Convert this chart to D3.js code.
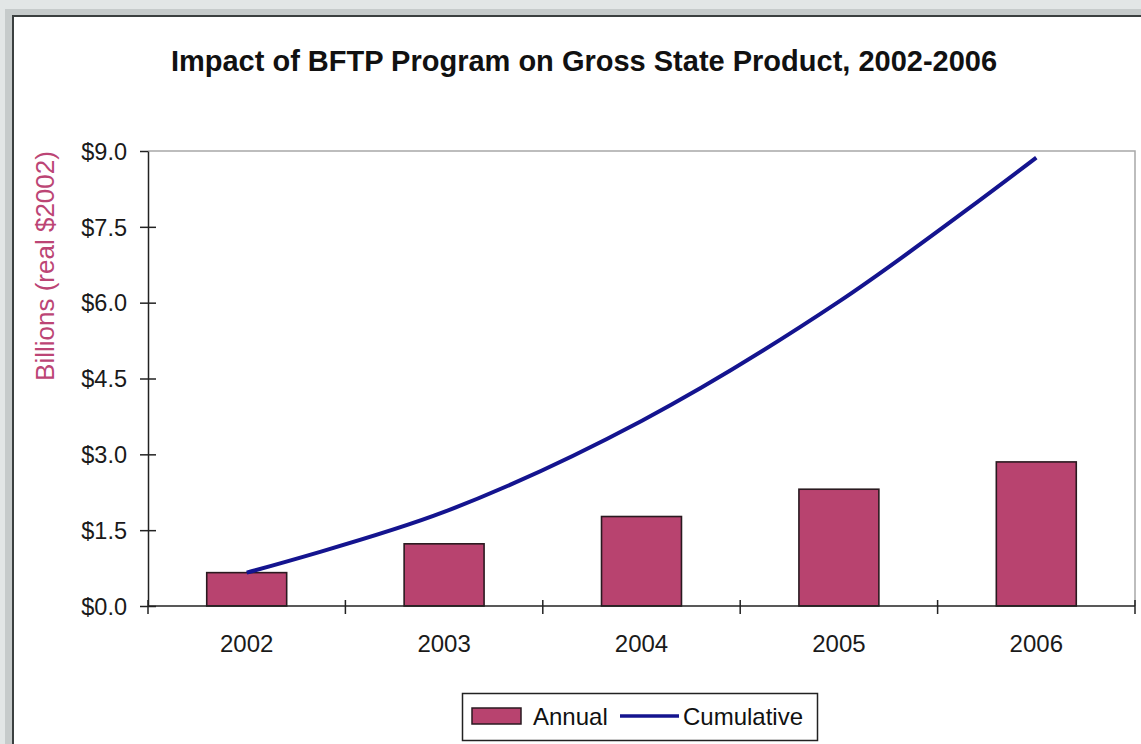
<!DOCTYPE html>
<html>
<head>
<meta charset="utf-8">
<script src="https://cdn.jsdelivr.net/npm/d3@7"></script>
<style>
  html, body { margin: 0; padding: 0; background: #dfe3e3; }
  svg { display: block; }
  text { font-family: "Liberation Sans", Arial, sans-serif; }
</style>
</head>
<body>
<svg id="chart" width="1141" height="744"></svg>
<script>
const years = ["2002", "2003", "2004", "2005", "2006"];
const annual = [0.66, 1.23, 1.77, 2.31, 2.85];
const cumulative = [0.66, 1.86, 3.66, 6.02, 8.87];
const yTicks = [0, 1.5, 3, 4.5, 6, 7.5, 9];
const seriesNames = ["Annual", "Cumulative"];
const titleText = "Impact of BFTP Program on Gross State Product, 2002-2006";
const yAxisTitle = "Billions (real $2002)";

const svg = d3.select("#chart");

// window frame
svg.append("rect").attr("x", 0).attr("y", 0).attr("width", 1141).attr("height", 744).attr("fill", "#e2e6e6");
svg.append("rect").attr("x", 5).attr("y", 9).attr("width", 1141).attr("height", 744).attr("fill", "#c6cbcb");
svg.append("rect").attr("x", 12).attr("y", 15).attr("width", 1141).attr("height", 744).attr("fill", "#3b4040");
svg.append("rect").attr("x", 14).attr("y", 17).attr("width", 1141).attr("height", 744).attr("fill", "#ffffff");

const pLeft = 148, pRight = 1135, pTop = 151, pBottom = 606;

const x = d3.scaleBand().domain(years).range([pLeft, pRight]).padding(0);
const y = d3.scaleLinear().domain([0, 9]).range([pBottom, pTop]);

// title
svg.append("text")
  .attr("x", 584).attr("y", 71)
  .attr("text-anchor", "middle")
  .attr("font-size", 29).attr("font-weight", "bold").attr("fill", "#111")
  .text(titleText);

// plot frame (top & right light gray)
svg.append("path")
  .attr("d", `M${pLeft},${pTop}H${pRight}V${pBottom}`)
  .attr("fill", "none").attr("stroke", "#a8a8a8").attr("stroke-width", 1.5);

// bars
const bw = x.bandwidth() * 0.405;
svg.append("g").selectAll("rect").data(annual).join("rect")
  .attr("x", (d, i) => x(years[i]) + x.bandwidth() / 2 - bw / 2)
  .attr("y", d => y(d))
  .attr("width", bw)
  .attr("height", d => y(0) - y(d))
  .attr("fill", "#b8436f")
  .attr("stroke", "#2a1a20").attr("stroke-width", 1.6);

// y axis
const yAxis = svg.append("g").attr("transform", `translate(${pLeft},0)`)
  .call(d3.axisLeft(y).tickValues(yTicks).tickFormat(d => "$" + d.toFixed(1)).tickSizeInner(8).tickSizeOuter(0).tickPadding(13));
yAxis.select(".domain").attr("stroke", "#222").attr("stroke-width", 1.5);
yAxis.selectAll(".tick line").attr("stroke", "#222").attr("stroke-width", 1.5)
  .attr("x1", d => d === 9 ? 0 : 8);
yAxis.selectAll(".tick text").attr("font-size", 23.5).attr("fill", "#1a1a1a")
  .attr("font-family", "'Liberation Sans', Arial, sans-serif").attr("dy", "0.35em");

// x axis line + ticks at band boundaries
const xAxis = svg.append("g");
xAxis.append("line").attr("x1", pLeft).attr("x2", pRight).attr("y1", pBottom).attr("y2", pBottom)
  .attr("stroke", "#222").attr("stroke-width", 1.5);
const boundaries = years.map(d => x(d)).concat([x(years[years.length - 1]) + x.step()]);
xAxis.selectAll("line.tk").data(boundaries).join("line").attr("class", "tk")
  .attr("x1", d => d).attr("x2", d => d)
  .attr("y1", pBottom - 6).attr("y2", pBottom + 8)
  .attr("stroke", "#222").attr("stroke-width", 1.5);
xAxis.selectAll("text").data(years).join("text")
  .attr("x", d => x(d) + x.bandwidth() / 2)
  .attr("y", 652)
  .attr("text-anchor", "middle")
  .attr("font-size", 24).attr("fill", "#1a1a1a")
  .text(d => d);

// cumulative line
const line = d3.line()
  .x((d, i) => x(years[i]) + x.bandwidth() / 2)
  .y(d => y(d))
  .curve(d3.curveCatmullRom.alpha(0.5));
svg.append("path").datum(cumulative)
  .attr("d", line)
  .attr("fill", "none").attr("stroke", "#14148f").attr("stroke-width", 4);

// y axis title
svg.append("text")
  .attr("transform", "translate(54,266) rotate(-90)")
  .attr("text-anchor", "middle")
  .attr("font-size", 26).attr("fill", "#bc4575")
  .text(yAxisTitle);

// legend
const lg = svg.append("g");
lg.append("rect").attr("x", 462.5).attr("y", 693.5).attr("width", 355).attr("height", 47)
  .attr("fill", "#fff").attr("stroke", "#222").attr("stroke-width", 1.5);
lg.append("rect").attr("x", 472).attr("y", 708).attr("width", 49).attr("height", 16)
  .attr("fill", "#b8436f").attr("stroke", "#2a1a20").attr("stroke-width", 1.5);
lg.append("text").attr("x", 533).attr("y", 725).attr("font-size", 24).attr("fill", "#111").text(seriesNames[0]);
lg.append("line").attr("x1", 620).attr("x2", 679).attr("y1", 716).attr("y2", 716)
  .attr("stroke", "#14148f").attr("stroke-width", 3.5);
lg.append("text").attr("x", 683).attr("y", 725).attr("font-size", 24).attr("fill", "#111").text(seriesNames[1]);
</script>
</body>
</html>
